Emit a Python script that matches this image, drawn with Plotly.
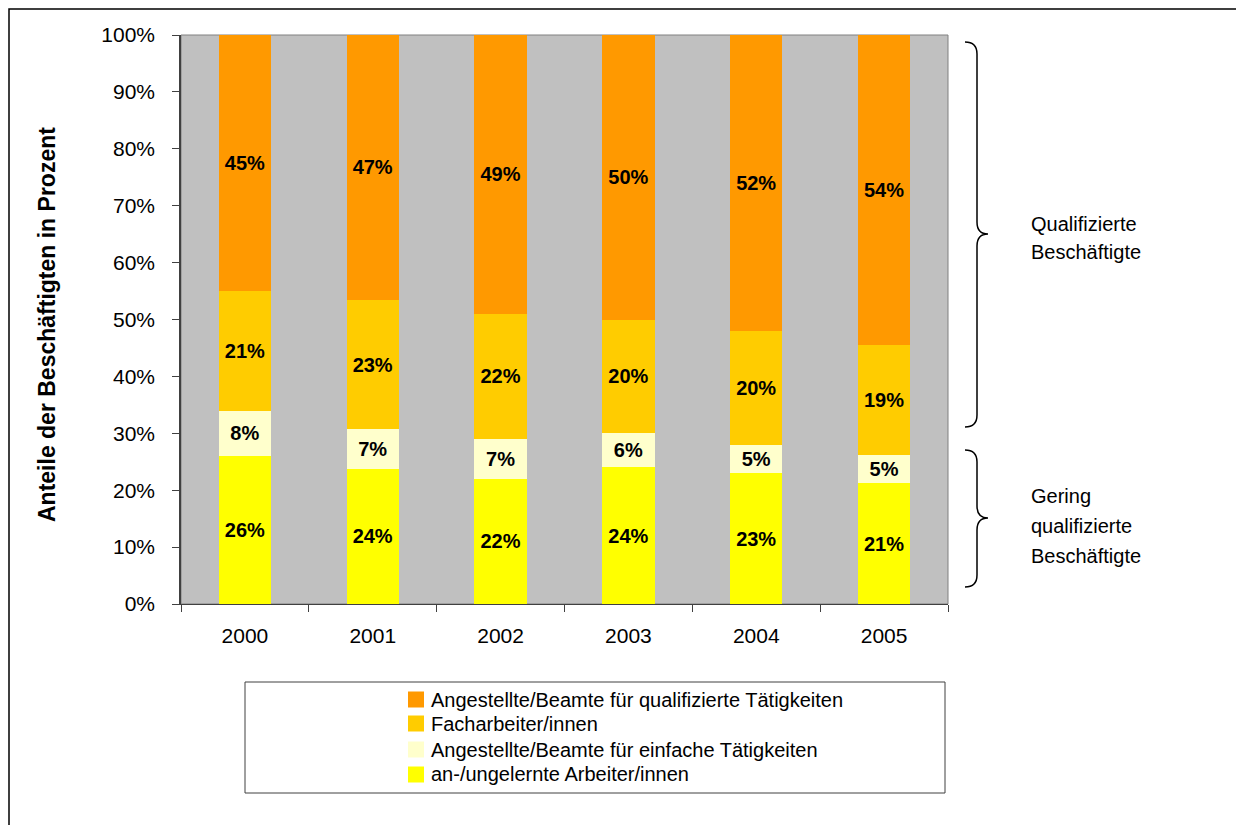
import plotly.graph_objects as go

# Anteile der Beschäftigtengruppen je Jahr (in %)
jahre = ["2000", "2001", "2002", "2003", "2004", "2005"]
ungelernte = [26, 24, 22, 24, 23, 21]
einfache = [8, 7, 7, 6, 5, 5]
facharbeiter = [21, 23, 22, 20, 20, 19]
qualifizierte = [45, 47, 49, 50, 52, 54]

serien = [
    ("an-/ungelernte Arbeiter/innen", ungelernte, "#FFFF00"),
    ("Angestellte/Beamte für einfache Tätigkeiten", einfache, "#FFFFCC"),
    ("Facharbeiter/innen", facharbeiter, "#FFCC00"),
    ("Angestellte/Beamte für qualifizierte Tätigkeiten", qualifizierte, "#FF9900"),
]

W, H = 1236, 825
L, R, T, B = 181, 948, 35, 604  # Plotfläche in Pixeln
FONT = "Arial, Liberation Sans, sans-serif"


def px(x):
    return (x - L) / (R - L)


def py(y):
    return (B - y) / (B - T)


fig = go.Figure()
for name, werte, farbe in serien:
    fig.add_trace(go.Bar(
        x=jahre, y=werte, name=name,
        marker=dict(color=farbe, line=dict(width=0)),
        text=[f"{v}%" for v in werte],
        textposition="inside", insidetextanchor="middle",
        textangle=0, constraintext="none",
        textfont=dict(family=FONT, size=20, color="black", weight="bold"),
        width=0.41,
        hoverinfo="skip",
        showlegend=False,
    ))

shapes = []
annotations = []

# äußerer Rahmen
shapes.append(dict(type="rect", xref="paper", yref="paper",
                   x0=px(9), x1=px(W + 5), y0=py(H + 5), y1=py(9),
                   line=dict(color="black", width=1.5), layer="below"))
# Rahmen der Plotfläche
shapes.append(dict(type="rect", xref="paper", yref="paper",
                   x0=0, x1=1, y0=0, y1=1,
                   line=dict(color="#808080", width=1), layer="below"))

# Legende: Kasten, Farbfelder und Beschriftungen (oberste Reihe = oberstes Segment)
shapes.append(dict(type="rect", xref="paper", yref="paper",
                   x0=px(245), x1=px(945), y0=py(793), y1=py(682),
                   line=dict(color="#404040", width=1)))
legend_y = [699.5, 723.5, 749.5, 774.5]
for (name, _, farbe), yc in zip(reversed(serien), legend_y):
    shapes.append(dict(type="rect", xref="paper", yref="paper",
                       x0=px(408), x1=px(424), y0=py(yc + 8), y1=py(yc - 8),
                       fillcolor=farbe, line=dict(width=0)))
    annotations.append(dict(x=px(429), y=py(yc), xref="paper", yref="paper",
                            text=name, showarrow=False, xanchor="left", yanchor="middle",
                            font=dict(family=FONT, size=20, color="black")))


def klammer(y_top, y_bot, y_mid, x_l=965, x_m=977, x_tip=988, r=12):
    pts = (
        f"M {px(x_l)},{py(y_top)} "
        f"Q {px(x_m)},{py(y_top)} {px(x_m)},{py(y_top + r)} "
        f"L {px(x_m)},{py(y_mid - r)} "
        f"Q {px(x_m)},{py(y_mid)} {px(x_tip)},{py(y_mid)} "
        f"Q {px(x_m)},{py(y_mid)} {px(x_m)},{py(y_mid + r)} "
        f"L {px(x_m)},{py(y_bot - r)} "
        f"Q {px(x_m)},{py(y_bot)} {px(x_l)},{py(y_bot)}"
    )
    return dict(type="path", xref="paper", yref="paper", path=pts,
                line=dict(color="black", width=1.5))


shapes.append(klammer(42, 427, 234))
shapes.append(klammer(450, 587, 518))

for i, zeile in enumerate(["Qualifizierte", "Beschäftigte"]):
    annotations.append(dict(x=px(1029), y=py(224 + 28 * i), xref="paper", yref="paper",
                            text=zeile, showarrow=False, xanchor="left", yanchor="middle",
                            font=dict(family=FONT, size=20, color="black")))
for i, zeile in enumerate(["Gering", "qualifizierte", "Beschäftigte"]):
    annotations.append(dict(x=px(1029), y=py(496 + 30 * i), xref="paper", yref="paper",
                            text=zeile, showarrow=False, xanchor="left", yanchor="middle",
                            font=dict(family=FONT, size=20, color="black")))
annotations.append(dict(x=px(47), y=py(325), xref="paper", yref="paper",
                        text="<b>Anteile der Beschäftigten in Prozent</b>", textangle=-90,
                        showarrow=False, xanchor="center", yanchor="middle",
                        font=dict(family=FONT, size=23, color="black")))

fig.update_layout(
    width=W, height=H,
    margin=dict(l=L, r=W - R, t=T, b=H - B),
    barmode="stack", barnorm="percent",
    plot_bgcolor="#C0C0C0", paper_bgcolor="white",
    font=dict(family=FONT, size=21, color="black"),
    shapes=shapes, annotations=annotations,
    showlegend=False,
    xaxis=dict(showline=True, linecolor="#404040", linewidth=1,
               ticks="outside", tickson="boundaries", ticklen=7, tickcolor="#404040",
               ticklabelstandoff=13, showgrid=False, fixedrange=True),
    yaxis=dict(range=[0, 100], dtick=10, ticksuffix="%", showline=True,
               linecolor="#404040", linewidth=1.5, ticks="outside", ticklen=7,
               tickcolor="#404040", ticklabelstandoff=13, showgrid=False,
               zeroline=False, fixedrange=True),
)

fig.write_html("out.html")
